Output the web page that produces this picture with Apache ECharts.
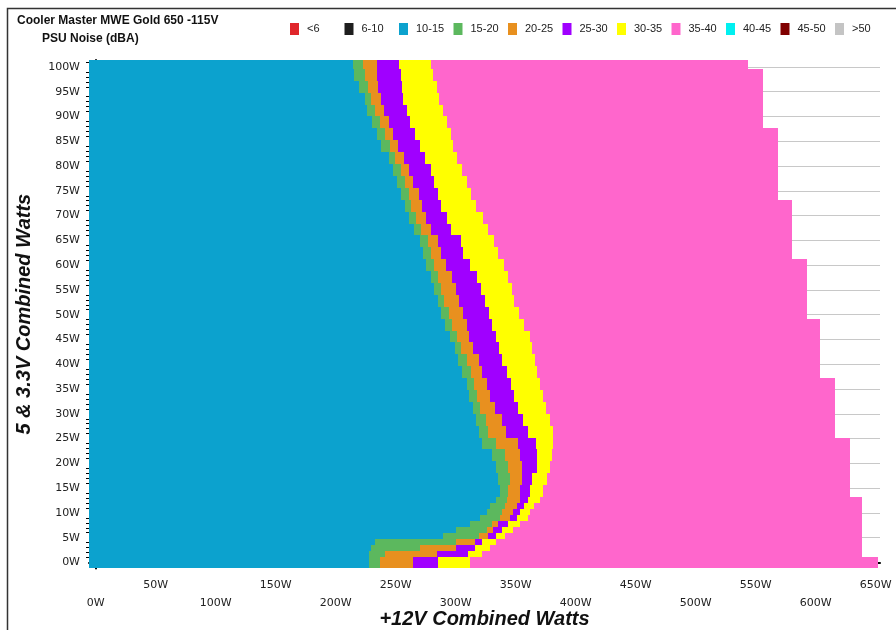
<!DOCTYPE html>
<html><head><meta charset="utf-8">
<script src="https://cdn.jsdelivr.net/npm/echarts@6/dist/echarts.min.js"></script>
<style>html,body{margin:0;padding:0;background:#fff}#c{width:896px;height:630px}</style>
</head><body><div id="c"></div>
<script>
// 5 & 3.3V combined load range (W) covered by each measured row
const rowFrom = [-1.2,1.2,2.4,3.6,4.8,6.0,7.2,8.4,9.6,10.8,12.0,13.2,15.6,18.0,20.4,22.8,25.2,27.6,30.0,32.4,34.8,37.2,39.6,42.0,44.4,46.8,49.2,51.6,54.0,56.4,58.8,61.2,63.6,66.0,68.4,70.8,73.2,75.6,78.0,80.4,82.8,85.2,87.6,90.0,92.4,94.8,97.2,99.6];
const rowTo   = [1.2,2.4,3.6,4.8,6.0,7.2,8.4,9.6,10.8,12.0,13.2,15.6,18.0,20.4,22.8,25.2,27.6,30.0,32.4,34.8,37.2,39.6,42.0,44.4,46.8,49.2,51.6,54.0,56.4,58.8,61.2,63.6,66.0,68.4,70.8,73.2,75.6,78.0,80.4,82.8,85.2,87.6,90.0,92.4,94.8,97.2,99.6,102.0];
// +12V load (W) where each noise band ends, for each row
const end10_15 = [228,228,229,233,289,300,312,320,326,329,334,337,335,334,330,322,319,317,314,311,309,305,302,299,295,291,288,285,282,279,275,273,270,265,261,258,254,251,248,244,238,234,230,226,224,219,215,214];
const end15_20 = [237,241,270,300,319,326,330,337,339,341,343,344,345,344,341,334,327,325,320,318,315,313,309,304,301,297,294,290,288,285,282,279,277,271,267,263,261,258,254,249,245,241,237,233,229,227,224,223];
const end20_25 = [264,284,300,316,327,331,335,345,348,351,354,354,355,355,354,352,342,339,333,329,326,322,319,314,311,309,306,303,300,297,292,288,285,279,275,272,269,264,261,257,252,248,244,240,238,235,234,234];
const end25_30 = [285,310,316,322,334,339,344,351,354,357,360,362,364,368,368,367,360,356,352,349,346,343,339,336,334,330,328,324,321,318,312,306,304,296,293,288,285,282,279,274,270,266,262,259,256,255,254,253];
const end30_35 = [312,322,329,334,341,348,354,360,362,365,370,373,376,379,380,381,381,379,375,373,370,368,366,364,362,357,353,349,347,344,340,335,332,327,323,317,313,309,305,301,298,296,293,289,286,284,281,279];
const end35_40 = [652,639,639,639,639,639,639,639,639,639,639,629,629,629,629,629,616,616,616,616,616,604,604,604,604,604,593,593,593,593,593,580,580,580,580,580,569,569,569,569,569,569,556,556,556,556,556,544];

const bandNames  = ['<6','6-10','10-15','15-20','20-25','25-30','30-35','35-40','40-45','45-50','>50'];
const bandColors = ['#E0262B','#1E1E1E','#0CA2CE','#5CB85E','#E8901F','#A000FF','#FFFF00','#FF66CC','#00F0F0','#800000','#C4C4C4'];
const bandEnds = {'10-15':end10_15,'15-20':end15_20,'20-25':end20_25,'25-30':end25_30,'30-35':end30_35,'35-40':end35_40};
const bandOrder = ['10-15','15-20','20-25','25-30','30-35','35-40'];

const xTicks = [0,12.5,25,37.5,50,62.5,75,87.5,100,112.5,125,137.5,150,162.5,175,187.5,200,212.5,225,237.5,250,262.5,275,287.5,300,312.5,325,337.5,350,362.5,375,387.5,400,412.5,425,437.5,450,462.5,475,487.5,500,512.5,525,537.5,550,562.5,575,587.5,600,612.5,625,637.5,650];
const xLabels = [0,50,100,150,200,250,300,350,400,450,500,550,600,650];
const yLabels = [0,5,10,15,20,25,30,35,40,45,50,55,60,65,70,75,80,85,90,95,100];
const yMinor = [1,2,3,4,6,7,8,9,11,12,13,14,16,17,18,19,21,22,23,24,26,27,28,29,31,32,33,34,36,37,38,39,41,42,43,44,46,47,48,49,51,52,53,54,56,57,58,59,61,62,63,64,66,67,68,69,71,72,73,74,76,77,78,79,81,82,83,84,86,87,88,89,91,92,93,94,96,97,98,99,101];

const X_MIN = -5.6, X_MAX = 653.6, Y_MIN = -1.2, Y_MAX = 101.4;

function renderer(color) {
  return function (params, api) {
    const y0 = api.value(0), y1 = api.value(1), x0 = api.value(2), x1 = api.value(3);
    const a = api.coord([x0, y1]);
    const b = api.coord([x1, y0]);
    const cs = params.coordSys;
    const left = Math.round(Math.max(a[0], cs.x));
    const right = Math.round(Math.min(b[0], cs.x + cs.width));
    const top = Math.round(Math.max(a[1], cs.y));
    const bottom = Math.round(Math.min(b[1], cs.y + cs.height));
    return {type: 'rect', shape: {x: left, y: top, width: right - left, height: bottom - top}, style: {fill: color}};
  };
}

const series = bandNames.map((name, i) => {
  const data = [];
  const idx = bandOrder.indexOf(name);
  if (idx >= 0) {
    const ends = bandEnds[name];
    const starts = idx === 0 ? null : bandEnds[bandOrder[idx - 1]];
    for (let k = 0; k < rowFrom.length; k++) {
      data.push([rowFrom[k], rowTo[k], starts ? starts[k] : X_MIN, ends[k]]);
    }
  }
  return {
    type: 'custom', name: name, silent: true,
    itemStyle: {color: bandColors[i]},
    encode: {x: [2, 3], y: [0, 1]},
    renderItem: renderer(bandColors[i]),
    data: data
  };
});

const legends = bandNames.map((name, i) => ({
  data: [{name: name, itemStyle: {color: bandColors[i]}}],
  left: 290 + i * 54.5, top: 23,
  itemWidth: 9, itemHeight: 12, icon: 'rect', selectedMode: false,
  padding: 0,
  textStyle: {fontSize: 11, fontFamily: 'Liberation Sans', color: '#222', padding: [0, 0, 0, 3]}
}));

const chart = echarts.init(document.getElementById('c'), null, {renderer: 'canvas'});
chart.setOption({
  animation: false,
  backgroundColor: '#fff',
  graphic: [{
    type: 'polyline', silent: true,
    shape: {points: [[7.5, 630], [7.5, 8.5], [896, 8.5]]},
    style: {stroke: '#333', lineWidth: 1.5, fill: null}
  }],
  title: [
    {text: 'Cooler Master MWE Gold 650 -115V', left: 12, top: 10, textStyle: {fontSize: 12, fontWeight: 'bold', fontFamily: 'Liberation Sans', color: '#111'}},
    {text: 'PSU Noise (dBA)', left: 37, top: 28, textStyle: {fontSize: 12, fontWeight: 'bold', fontFamily: 'Liberation Sans', color: '#111'}}
  ],
  legend: legends,
  grid: {left: 89, top: 60, width: 791, height: 508.4, containLabel: false, outerBoundsMode: 'none'},
  xAxis: {
    type: 'value', min: X_MIN, max: X_MAX,
    name: '+12V Combined Watts', nameLocation: 'middle', nameGap: 41, nameMoveOverlap: false,
    nameTextStyle: {fontSize: 20, fontWeight: 'bold', fontStyle: 'italic', fontFamily: 'Liberation Sans', color: '#111'},
    axisLine: {lineStyle: {color: '#000', width: 2}},
    axisTick: {show: true, length: 5, lineStyle: {color: '#000'}, customValues: xTicks},
    axisLabel: {customValues: xLabels, margin: 8, fontSize: 11, fontFamily: 'DejaVu Sans', color: '#222', lineHeight: 18,
      formatter: v => (v % 100 === 0 ? '\n' : '') + v + 'W'},
    splitLine: {show: false}
  },
  yAxis: [{
    type: 'value', min: Y_MIN, max: Y_MAX,
    name: '5 & 3.3V Combined Watts', nameLocation: 'middle', nameGap: 55, nameRotate: 90, nameMoveOverlap: false,
    nameTextStyle: {fontSize: 20, fontWeight: 'bold', fontStyle: 'italic', fontFamily: 'Liberation Sans', color: '#111'},
    axisLine: {show: true, lineStyle: {color: '#000', width: 2}},
    axisTick: {show: true, length: 6, lineStyle: {color: '#000'}, customValues: yLabels},
    axisLabel: {customValues: yLabels, margin: 9, fontSize: 11, fontFamily: 'DejaVu Sans', color: '#222', formatter: v => v + 'W'},
    splitLine: {show: true, lineStyle: {color: '#C8C8C8', width: 1}}
  }, {
    type: 'value', min: Y_MIN, max: Y_MAX, position: 'left', offset: 0,
    axisLine: {show: false},
    axisTick: {show: true, length: 3, lineStyle: {color: '#000'}, customValues: yMinor},
    axisLabel: {show: false},
    splitLine: {show: false}
  }],
  series: series
});
</script>
</body></html>
